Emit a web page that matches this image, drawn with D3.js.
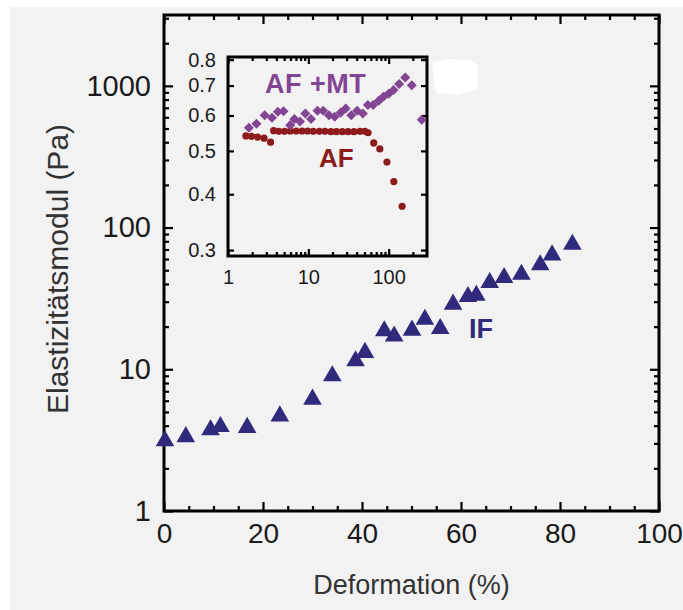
<!DOCTYPE html>
<html><head><meta charset="utf-8">
<script src="https://cdnjs.cloudflare.com/ajax/libs/d3/7.8.5/d3.min.js"></script>
<style>
html,body{margin:0;padding:0;background:#fff;}
svg{display:block;}
text{font-family:"Liberation Sans",Arial,Helvetica,sans-serif;}
</style></head>
<body>
<svg id="chart" width="683" height="610"></svg>
<script>
// ---- Main chart data (IF) ----
const ifDeformation = [0.2, 4.4, 9.4, 11.4, 16.8, 23.4, 30.0, 34.0, 38.7, 40.6, 44.5, 46.5, 50.1, 52.7, 55.8, 58.4, 61.4, 63.1, 65.8, 68.7, 72.2, 76.0, 78.4, 82.5];
const ifModulus = [3.26, 3.49, 3.90, 4.11, 4.05, 4.89, 6.41, 9.37, 11.97, 13.7, 19.5, 17.9, 19.7, 23.5, 20.2, 30.0, 34.0, 34.7, 42.7, 46.3, 48.8, 56.9, 66.9, 79.5];

// ---- Inset data ----
const afX = [1.67, 1.96, 2.33, 2.81, 3.39, 3.70, 4.30, 5.06, 5.95, 7.05, 8.36, 9.82, 11.5, 13.7, 16.1, 19.1, 22.4, 26.5, 31.2, 37.0, 43.9, 50.5, 55.4, 65.2, 77.6, 95.2, 116, 147];
const afY = [0.540, 0.539, 0.537, 0.534, 0.523, 0.555, 0.553, 0.553, 0.554, 0.554, 0.554, 0.554, 0.553, 0.553, 0.553, 0.552, 0.552, 0.552, 0.552, 0.552, 0.553, 0.553, 0.549, 0.521, 0.505, 0.472, 0.427, 0.376];
const afmtX = [1.82, 2.26, 2.86, 3.53, 4.18, 4.91, 5.95, 6.71, 7.88, 9.18, 10.8, 13.0, 15.3, 18.1, 21.3, 25.3, 29.2, 34.2, 40.5, 47.7, 55.1, 63.9, 75.1, 86.6, 99.9, 115, 135, 161, 194, 258];
const afmtY = [0.563, 0.575, 0.601, 0.593, 0.612, 0.613, 0.571, 0.589, 0.582, 0.606, 0.589, 0.615, 0.615, 0.601, 0.596, 0.609, 0.622, 0.601, 0.615, 0.606, 0.633, 0.633, 0.647, 0.662, 0.671, 0.684, 0.706, 0.730, 0.701, 0.587];

// ---- Tick labels ----
const mainXTicks = [0, 20, 40, 60, 80, 100];
const mainYTicks = [1, 10, 100, 1000];
const insetXTicks = [1, 10, 100];
const insetYTicks = [0.3, 0.4, 0.5, 0.6, 0.7, 0.8];

const svg = d3.select("#chart");
const FONT = '"Liberation Sans",Arial,Helvetica,sans-serif';

// background panel
svg.append("rect").attr("x", 10).attr("y", 7).attr("width", 673).attr("height", 603).attr("fill", "#f2f2f2");

// ---- Main scales ----
const L = 164, R = 659, T = 15, B = 511;
const x = d3.scaleLinear().domain([0, 100]).range([L, R]);
const y = d3.scaleLog().domain([1, Math.pow(10, 3.5)]).range([B, T]);

const minorY = [];
for (let d = 1; d <= 1000; d *= 10) for (let k = 2; k <= 9; k++) if (k * d <= 3162) minorY.push(k * d);
const minorX = d3.range(5, 100, 5).filter(v => v % 20 !== 0);

function styleAxis(g) {
  g.select(".domain").remove();
  g.selectAll(".tick line").attr("stroke", "#000").attr("stroke-width", 2.2);
  g.selectAll(".tick text").attr("fill", "#1a1a1a").style("font-family", FONT);
}

// main axes: left
svg.append("g").attr("transform", `translate(${L},0)`)
  .call(d3.axisLeft(y).tickValues(mainYTicks).tickSize(-9).tickPadding(13).tickFormat(d3.format("d")))
  .call(styleAxis).selectAll(".tick text").style("font-size", "29px");
svg.append("g").attr("transform", `translate(${L},0)`)
  .call(d3.axisLeft(y).tickValues(minorY).tickSize(-5).tickFormat(""))
  .call(styleAxis);
// right
svg.append("g").attr("transform", `translate(${R},0)`)
  .call(d3.axisRight(y).tickValues(mainYTicks).tickSize(-9).tickFormat(""))
  .call(styleAxis);
svg.append("g").attr("transform", `translate(${R},0)`)
  .call(d3.axisRight(y).tickValues(minorY).tickSize(-5).tickFormat(""))
  .call(styleAxis);
// bottom
svg.append("g").attr("transform", `translate(0,${B})`)
  .call(d3.axisBottom(x).tickValues(mainXTicks).tickSize(-9).tickPadding(12).tickFormat(d3.format("d")))
  .call(styleAxis).selectAll(".tick text").style("font-size", "28px").attr("dy", "0.71em");
svg.append("g").attr("transform", `translate(0,${B})`)
  .call(d3.axisBottom(x).tickValues(minorX).tickSize(-5).tickFormat(""))
  .call(styleAxis);
// top
svg.append("g").attr("transform", `translate(0,${T})`)
  .call(d3.axisTop(x).tickValues(mainXTicks).tickSize(-9).tickFormat(""))
  .call(styleAxis);
svg.append("g").attr("transform", `translate(0,${T})`)
  .call(d3.axisTop(x).tickValues(minorX).tickSize(-5).tickFormat(""))
  .call(styleAxis);

svg.append("rect").attr("x", L).attr("y", T).attr("width", R - L).attr("height", B - T)
  .attr("fill", "none").attr("stroke", "#000").attr("stroke-width", 3);

// axis titles
svg.append("text").attr("x", (L + R) / 2).attr("y", 594).attr("text-anchor", "middle")
  .attr("fill", "#333").style("font-size", "27px").text("Deformation (%)");
svg.append("text").attr("transform", `translate(68,269) rotate(-90)`).attr("text-anchor", "middle")
  .attr("fill", "#333").style("font-size", "30px").text("Elastizitätsmodul (Pa)");

// IF triangles
const tri = d3.symbol().type(d3.symbolTriangle).size(150);
svg.append("g").selectAll("path").data(ifDeformation.map((d, i) => [d, ifModulus[i]])).join("path")
  .attr("d", tri).attr("transform", d => `translate(${x(d[0])},${y(d[1]) + 2.7})`)
  .attr("fill", "#2f2a7c");
svg.append("text").attr("x", 469).attr("y", 338).attr("fill", "#2f2a7c")
  .style("font-size", "27px").style("font-weight", "bold").text("IF");

// ---- Inset ----
const iL = 228, iR = 427, iT = 57, iB = 256;
const ix = d3.scaleLog().domain([1, 300]).range([iL, iR]);
const iy = d3.scaleLog().domain([0.291, 0.811]).range([iB, iT]);
const iMinorX = [2,3,4,5,6,7,8,9,20,30,40,50,60,70,80,90,200];

svg.append("g").attr("transform", `translate(${iL},0)`)
  .call(d3.axisLeft(iy).tickValues(insetYTicks).tickSize(-6).tickPadding(12).tickFormat(d3.format(".1f")))
  .call(styleAxis).selectAll(".tick text").style("font-size", "20px");
svg.append("g").attr("transform", `translate(${iR},0)`)
  .call(d3.axisRight(iy).tickValues(insetYTicks).tickSize(-6).tickFormat(""))
  .call(styleAxis);
svg.append("g").attr("transform", `translate(0,${iB})`)
  .call(d3.axisBottom(ix).tickValues(insetXTicks).tickSize(-7).tickPadding(14).tickFormat(d3.format("d")))
  .call(styleAxis).selectAll(".tick text").style("font-size", "20px");
svg.append("g").attr("transform", `translate(0,${iB})`)
  .call(d3.axisBottom(ix).tickValues(iMinorX).tickSize(-4).tickFormat(""))
  .call(styleAxis);
svg.append("g").attr("transform", `translate(0,${iT})`)
  .call(d3.axisTop(ix).tickValues(insetXTicks).tickSize(-7).tickFormat(""))
  .call(styleAxis);
svg.append("g").attr("transform", `translate(0,${iT})`)
  .call(d3.axisTop(ix).tickValues(iMinorX).tickSize(-4).tickFormat(""))
  .call(styleAxis);

svg.append("rect").attr("x", iL).attr("y", iT).attr("width", iR - iL).attr("height", iB - iT)
  .attr("fill", "none").attr("stroke", "#000").attr("stroke-width", 3);

// AF circles
svg.append("g").selectAll("circle").data(afX.map((d, i) => [d, afY[i]])).join("circle")
  .attr("cx", d => ix(d[0])).attr("cy", d => iy(d[1])).attr("r", 3.6).attr("fill", "#8e1b1b");
// AF+MT diamonds
const dia = d3.symbol().type(d3.symbolDiamond2).size(64);
svg.append("g").selectAll("path").data(afmtX.map((d, i) => [d, afmtY[i]])).join("path")
  .attr("d", dia).attr("transform", d => `translate(${ix(d[0])},${iy(d[1])})`).attr("fill", "#834494");

svg.append("text").attr("x", 265).attr("y", 93).attr("fill", "#834494")
  .style("font-size", "27px").style("font-weight", "bold").style("letter-spacing", "0.5px").text("AF +MT");
svg.append("text").attr("x", 319).attr("y", 167).attr("fill", "#8e1b1b")
  .style("font-size", "26px").style("font-weight", "bold").text("AF");

// white blob artifact
svg.append("path").attr("d", "M432,63 L446,59 L470,60 L478,66 L477,89 L458,95 L436,93 Z").attr("fill", "#fff");
</script>
</body></html>
